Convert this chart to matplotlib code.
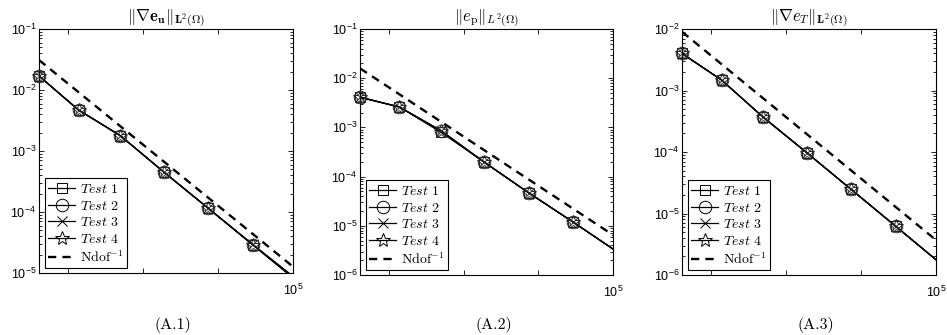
import numpy as np
import matplotlib
matplotlib.use("Agg")
import matplotlib.pyplot as plt
from matplotlib.lines import Line2D
from matplotlib.font_manager import FontProperties
from matplotlib.ticker import LogLocator, NullLocator, FixedLocator, FixedFormatter, NullFormatter

plt.rcParams['mathtext.fontset'] = 'custom'
plt.rcParams['mathtext.rm'] = 'Liberation Sans'
plt.rcParams['mathtext.it'] = 'Liberation Sans:italic'
plt.rcParams['mathtext.bf'] = 'Liberation Sans:bold'
plt.rcParams['font.family'] = ['Liberation Sans', 'DejaVu Sans']

# ---------------- data ----------------
ndof = [41, 138, 500, 1900, 7400, 29000, 114000]
n_visible = 6  # points inside the x-range (last one lies beyond 1e5)

test_labels = [r'$\mathit{Test\ 1}$', r'$\mathit{Test\ 2}$', r'$\mathit{Test\ 3}$', r'$\mathit{Test\ 4}$']
ref_label = r'$\mathrm{Ndof}^{-1}$'

err_u = [
    [1.70e-2, 4.70e-3, 1.78e-3, 4.50e-4, 1.15e-4, 2.90e-5, 7.30e-6],
    [1.70e-2, 4.70e-3, 1.78e-3, 4.50e-4, 1.15e-4, 2.90e-5, 7.30e-6],
    [1.70e-2, 4.70e-3, 1.78e-3, 4.50e-4, 1.16e-4, 2.95e-5, 7.80e-6],
    [1.70e-2, 4.70e-3, 1.78e-3, 4.50e-4, 1.15e-4, 2.92e-5, 7.55e-6],
]
err_p = [
    [4.10e-3, 2.60e-3, 7.90e-4, 1.95e-4, 4.70e-5, 1.20e-5, 2.95e-6],
    [4.10e-3, 2.60e-3, 8.50e-4, 1.95e-4, 4.70e-5, 1.20e-5, 2.95e-6],
    [4.10e-3, 2.60e-3, 8.50e-4, 1.95e-4, 4.70e-5, 1.20e-5, 2.95e-6],
    [4.10e-3, 2.60e-3, 8.60e-4, 1.95e-4, 4.70e-5, 1.20e-5, 2.95e-6],
]
err_T = [
    [4.00e-3, 1.48e-3, 3.65e-4, 9.70e-5, 2.46e-5, 6.20e-6, 1.55e-6],
    [4.00e-3, 1.48e-3, 3.65e-4, 9.70e-5, 2.46e-5, 6.20e-6, 1.55e-6],
    [4.00e-3, 1.48e-3, 3.65e-4, 9.70e-5, 2.46e-5, 6.20e-6, 1.55e-6],
    [4.00e-3, 1.48e-3, 3.65e-4, 9.70e-5, 2.46e-5, 6.20e-6, 1.55e-6],
]
ref_const = [1.27, 0.65, 0.37]   # C in C*Ndof^-1

titles = [r'$\|\nabla \mathbf{e}_{\mathbf{u}}\|_{\mathbf{L}^2(\Omega)}$',
          r'$\|e_{\mathrm{p}}\|_{L^2(\Omega)}$',
          r'$\|\nabla e_T\|_{\mathbf{L}^2(\Omega)}$']
captions = ['(A.1)', '(A.2)', '(A.3)']
ylims = [(1e-5, 1e-1), (1e-6, 1e-1), (1e-6, 1e-2)]
xlim = (41, 1e5)
xticks = [1e2, 1e3, 1e4, 1e5]
xticklabels = ['', '', '', r'$10^{5}$']

markers = ['s', 'o', 'x', '*']
msizes = [7, 9, 7, 10]

# ---------------- figure ----------------
W, H = 947, 335
fig = plt.figure(figsize=(W / 100, H / 100), dpi=100)
boxes = [(39, 29, 254, 244), (360, 29, 253, 246), (682, 29, 254, 246)]
all_err = [err_u, err_p, err_T]

cm_prop = FontProperties(size=10, math_fontfamily='cm')
dash = (0, (3.5, 2.6))

for k, (x0, y0, w, h) in enumerate(boxes):
    ax = fig.add_axes([x0 / W, (H - y0 - h) / H, w / W, h / H])
    ax.set_xscale('log')
    ax.set_yscale('log')
    N = np.array(ndof, dtype=float)
    for i, y in enumerate(all_err[k]):
        y = np.array(y)
        ax.plot(N, y, '-', color='k', lw=0.9, zorder=3)
        ax.plot(N[:n_visible], y[:n_visible], ls='none', marker=markers[i],
                mfc='none', mec='0.15', mew=0.7, ms=msizes[i],
                clip_on=False, zorder=4)
    ax.plot(N, ref_const[k] / N, color='k', lw=1.7, ls=dash, zorder=2)

    ax.set_xlim(*xlim)
    ax.set_ylim(*ylims[k])
    ax.xaxis.set_major_locator(FixedLocator(xticks))
    ax.xaxis.set_major_formatter(FixedFormatter(xticklabels))
    ax.xaxis.set_minor_locator(NullLocator())
    ax.yaxis.set_major_locator(LogLocator(base=10, numticks=20))
    ax.yaxis.set_minor_locator(LogLocator(base=10, subs=np.arange(2, 10), numticks=20))
    ax.yaxis.set_minor_formatter(NullFormatter())
    ax.tick_params(which='both', direction='in', top=True, right=True, width=0.6, color='k')
    ax.tick_params(which='major', length=3.5, labelsize=9)
    ax.tick_params(which='minor', length=2)
    ax.tick_params(axis='x', pad=7)
    ax.tick_params(axis='y', pad=2)
    for s in ax.spines.values():
        s.set_linewidth(0.8)

    ax.set_title(titles[k], fontsize=12, pad=3, math_fontfamily='cm')

    handles = [Line2D([], [], color='k', lw=0.9, marker=m, mfc='none', mec='k', mew=0.7,
                      ms=s) for m, s in zip(markers, msizes)]
    handles.append(Line2D([], [], color='k', lw=1.7, ls=dash))
    leg = ax.legend(handles, test_labels + [ref_label], loc='lower left',
                    bbox_to_anchor=(6 / w, 5 / h), borderaxespad=0,
                    prop=cm_prop, handlelength=1.9, handletextpad=0.35,
                    labelspacing=0.2, borderpad=0.25, fancybox=False,
                    framealpha=1, edgecolor='k')
    leg.get_frame().set_linewidth(0.8)

    fig.text((x0 + w / 2 + 7) / W, 1 - 325 / H, captions[k],
             ha='center', va='center', fontsize=11.5, family='cmr10')

fig.savefig('out.png', dpi=100)
